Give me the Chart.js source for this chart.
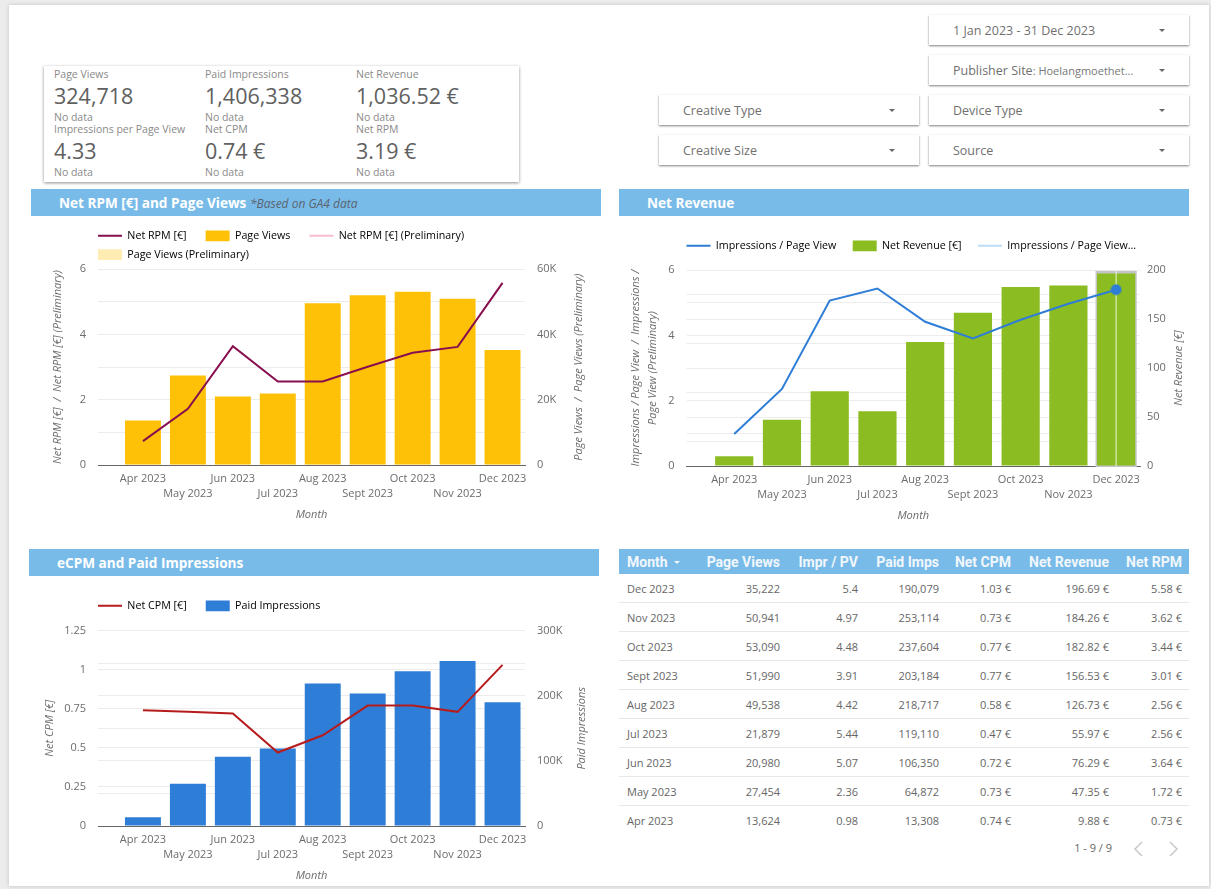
<!DOCTYPE html>
<html>
<head>
<meta charset="utf-8">
<title>Publisher dashboard</title>
<script src="https://cdn.jsdelivr.net/npm/chart.js@4"></script>
<style>
html, body { margin: 0; padding: 0; width: 1211px; height: 889px; overflow: hidden; background: #ececec; }
body { position: relative; font-family: "Open Sans", sans-serif; color: #616161; }
.abs { position: absolute; }
#sheet { left: 9px; top: 5px; width: 1200px; height: 881px; background: #fff; box-shadow: 0 0 4px rgba(0,0,0,.18); }
#kpi { left: 44px; top: 66px; width: 475px; height: 116px; background: #fff; box-shadow: 0 1px 3px rgba(0,0,0,.45); }
.kpi-l, .kpi-v, .kpi-n { position: absolute; white-space: nowrap; line-height: 14px; }
.kpi-l { font-size: 10.5px; color: #8a8a8a; }
.kpi-n { font-size: 10.5px; color: #8a8a8a; }
.kpi-v { font-size: 21.5px; line-height: 26px; color: #606060; }
.filter { position: absolute; width: 260px; height: 30px; background: #fff; box-shadow: 0 1px 2px rgba(0,0,0,.5); font-size: 12.5px; line-height: 31px; color: #707070; }
.filter span { position: absolute; left: 24px; white-space: nowrap; }
.filter small { font-size: 11px; color: #777; }
.filter i { position: absolute; right: 24px; top: 14px; width: 0; height: 0; border: 3px solid transparent; border-top: 3px solid #666; border-bottom: 0; }
.head { position: absolute; height: 27px; width: 570px; background: #79bbe8; color: #fff; font-weight: 700; font-size: 13.6px; line-height: 28px; }
.head span { position: absolute; white-space: nowrap; }
.head em { font-weight: 400; font-size: 12px; color: #5a6570; }
.box { position: absolute; }
#tbl { position: absolute; left: 619px; top: 549px; width: 570px; border-collapse: collapse; table-layout: fixed; font-size: 11px; color: #666; }
#tbl th { height: 25px; padding: 0; background: #79bbe8; color: #f1f7fc; font: 700 14px Roboto, sans-serif; text-align: right; }
#tbl td { height: 28px; padding: 0; text-align: right; border-bottom: 1px solid #e8e8e8; }
#tbl tr:last-child td { border-bottom: 0; }
#tbl th:first-child, #tbl td:first-child { text-align: left; padding-left: 8px; }
#tbl th:last-child, #tbl td:last-child { padding-right: 7px; }
#pager { right: 99px; top: 841px; font-size: 11px; line-height: 14px; color: #666; }
</style>
</head>
<body>
<div id="sheet" class="abs"></div>

<div id="kpi" class="abs"></div>
<div id="filters"></div>

<div class="head" style="left:31px;top:189px"><span style="left:28px">Net RPM [€] and Page Views <em>*Based on GA4 data</em></span></div>
<div class="head" style="left:619px;top:189px"><span style="left:28px">Net Revenue</span></div>
<div class="head" style="left:29px;top:549px"><span style="left:28px">eCPM and Paid Impressions</span></div>

<div class="box" style="left:46px;top:217px;width:554px;height:308px"><canvas id="rpmChart"></canvas></div>
<div class="box" style="left:624px;top:220px;width:565px;height:306px"><canvas id="revenueChart"></canvas></div>
<div class="box" style="left:38px;top:580px;width:562px;height:306px"><canvas id="cpmChart"></canvas></div>

<table id="tbl"></table>
<div id="pager" class="abs">1 - 9 / 9</div>
<svg class="abs" style="left:1130px;top:840px" width="54" height="18" fill="none" stroke="#c4c4c4" stroke-width="1.4">
  <path d="M12 2 L5 9 L12 16"/><path d="M40 2 L47 9 L40 16"/>
</svg>

<script>
const months = ['Apr 2023', 'May 2023', 'Jun 2023', 'Jul 2023', 'Aug 2023', 'Sept 2023', 'Oct 2023', 'Nov 2023', 'Dec 2023'];
const pageViews = [13624, 27454, 20980, 21879, 49538, 51990, 53090, 50941, 35222];
const imprPerView = [0.98, 2.36, 5.07, 5.44, 4.42, 3.91, 4.48, 4.97, 5.4];
const paidImps = [13308, 64872, 106350, 119110, 218717, 203184, 237604, 253114, 190079];
const netCpm = [0.74, 0.73, 0.72, 0.47, 0.58, 0.77, 0.77, 0.73, 1.03];
const netRevenue = [9.88, 47.35, 76.29, 55.97, 126.73, 156.53, 182.82, 184.26, 196.69];
const netRpm = [0.73, 1.72, 3.64, 2.56, 2.56, 3.01, 3.44, 3.62, 5.58];

// tick labels, blank ones only get a grid line
const rpmTicks = ['0', '', '2', '', '4', '', '6'];
const viewTicks = ['0', '', '20K', '', '40K', '', '60K'];
const imprTicks = ['0', '', '2', '', '4', '', '6'];
const revenueTicks = ['0', '', '50', '', '100', '', '150', '', '200'];
const cpmTicks = ['0', '0.25', '0.5', '0.75', '1', '1.25'];
const impTicks = ['0', '', '100K', '', '200K', '', '300K'];

const kpis = [
    ['Page Views', '324,718'], ['Paid Impressions', '1,406,338'], ['Net Revenue', '1,036.52 €'],
    ['Impressions per Page View', '4.33'], ['Net CPM', '0.74 €'], ['Net RPM', '3.19 €']
];
const filters = [
    ['1 Jan 2023 - 31 Dec 2023', 929, 15],
    ['Publisher Site<small>: Hoelangmoethet...</small>', 929, 55],
    ['Creative Type', 659, 95], ['Device Type', 929, 95],
    ['Creative Size', 659, 135], ['Source', 929, 135]
];
const tableHead = ['Month', 'Page Views', 'Impr / PV', 'Paid Imps', 'Net CPM', 'Net Revenue', 'Net RPM'];
const colWidths = [81, 80, 78, 81, 72, 98, 80];

// ---- the html parts
const kpiBox = document.getElementById('kpi');
const kpiX = [10, 161, 312];
kpis.forEach((k, i) => {
    const x = kpiX[i % 3];
    const y = i < 3 ? 0 : 55;
    kpiBox.innerHTML += `<div class="kpi-l" style="left:${x}px;top:${y + 1}px">${k[0]}</div>`
        + `<div class="kpi-v" style="left:${x}px;top:${y + 17}px">${k[1]}</div>`
        + `<div class="kpi-n" style="left:${x}px;top:${y + 44}px">No data</div>`;
});

document.getElementById('filters').innerHTML = filters.map(f =>
    `<div class="filter" style="left:${f[1]}px;top:${f[2]}px"><span>${f[0]}</span><i></i></div>`).join('');

const money = v => v.toFixed(2) + ' €';
let html = '<colgroup>' + colWidths.map(w => `<col style="width:${w}px">`).join('') + '</colgroup><tr>';
tableHead.forEach((h, i) => {
    html += '<th>' + h + (i === 0 ? ' <span style="display:inline-block;margin-left:3px;vertical-align:middle;border:3px solid transparent;border-top-color:#f1f7fc;border-bottom:0"></span>' : '') + '</th>';
});
html += '</tr>';
for (let i = months.length - 1; i >= 0; i--) {
    html += `<tr><td>${months[i]}</td><td>${pageViews[i].toLocaleString('en-US')}</td><td>${imprPerView[i]}</td>`
        + `<td>${paidImps[i].toLocaleString('en-US')}</td><td>${money(netCpm[i])}</td><td>${money(netRevenue[i])}</td><td>${money(netRpm[i])}</td></tr>`;
}
document.getElementById('tbl').innerHTML = html;

// ---- charts
Chart.defaults.font.family = '"Open Sans", sans-serif';
Chart.defaults.font.size = 11;
Chart.defaults.color = '#6c6c6c';

const points = arr => arr.map((v, i) => ({ x: i, y: v }));
const GRID = '#ececec';

// Chart.js turns a right axis title the other way, so that one is drawn here,
// this also pins the legend to the plot's left edge
const dashPlugin = {
    id: 'dash',
    afterLayout(chart, args, opts) {
        const lg = chart.legend;
        lg.left = chart.chartArea.left - 8;
        lg.top = opts.legendTop;
    },
    beforeDatasetsDraw(chart, args, opts) {
        if (opts.hoverIndex === undefined) return;
        const bar = chart.getDatasetMeta(1).data[opts.hoverIndex];
        const ctx = chart.ctx;
        ctx.save();
        ctx.strokeStyle = '#c4c4c4';
        ctx.lineWidth = 3;
        ctx.strokeRect(bar.x - bar.width / 2, bar.y - 1, bar.width, bar.base - bar.y + 1);
        ctx.restore();
    },
    beforeDatasetDraw(chart, args, opts) {
        if (opts.hoverIndex === undefined || args.index !== 0) return;
        const x = chart.scales.x.getPixelForValue(opts.hoverIndex);
        const ctx = chart.ctx;
        ctx.save();
        ctx.strokeStyle = 'rgba(255,255,255,.85)';
        ctx.lineWidth = 1;
        ctx.beginPath();
        ctx.moveTo(x, chart.chartArea.top + 1);
        ctx.lineTo(x, chart.chartArea.bottom);
        ctx.stroke();
        ctx.restore();
    },
    afterDraw(chart, args, opts) {
        const ctx = chart.ctx;
        const a = chart.chartArea;
        ctx.save();
        ctx.translate(a.right + opts.rightOffset, (a.top + a.bottom) / 2);
        ctx.rotate(-Math.PI / 2);
        ctx.font = 'italic 11px "Open Sans", sans-serif';
        ctx.fillStyle = '#6c6c6c';
        ctx.textAlign = 'center';
        ctx.textBaseline = 'middle';
        ctx.fillText(opts.rightTitle, 0, 0);
        ctx.restore();
    }
};

function makeChart(id, cfg) {
    const datasets = cfg.datasets.map(d => {
        const isLine = d.kind === 'line';
        const out = {
            type: isLine ? 'line' : 'bar',
            label: d.label,
            data: points(d.data),
            yAxisID: isLine ? 'y' : 'y1',
            order: isLine ? 0 : 1,
            borderColor: d.color,
            backgroundColor: d.color
        };
        if (isLine) {
            out.borderWidth = 2;
            out.tension = 0;
            out.pointRadius = 0;
            if (d.hoverIndex !== undefined) {
                out.pointRadius = c => c.dataIndex === d.hoverIndex ? 5 : 0;
                out.pointBorderColor = 'rgba(46,125,214,.35)';
                out.pointBorderWidth = 2;
                out.pointBackgroundColor = d.color;
            }
        } else {
            out.barPercentage = 0.8;
            out.categoryPercentage = 1;
            if (!d.data.length) out.grouped = false;
        }
        return out;
    });

    new Chart(document.getElementById(id), {
        type: 'bar',
        data: { datasets: datasets },
        plugins: [dashPlugin],
        options: {
            responsive: true,
            maintainAspectRatio: false,
            animation: false,
            layout: { padding: { top: cfg.padTop } },
            plugins: {
                tooltip: { enabled: false },
                dash: { legendTop: cfg.legendTop, rightTitle: cfg.rightTitle, rightOffset: cfg.rightOffset, hoverIndex: cfg.hoverIndex },
                legend: {
                    position: 'top',
                    align: 'start',
                    fullSize: cfg.legendFull,
                    labels: {
                        usePointStyle: true,
                        pointStyleWidth: 24,
                        boxHeight: 12,
                        padding: 8,
                        color: '#6c6c6c',
                        font: { size: 10.7 },
                        generateLabels: chart => chart.data.datasets.map((ds, i) => ({
                            text: ds.label + (i < chart.data.datasets.length - 1 ? '\u00a0'.repeat(cfg.legendSpaces) : ''),
                            fillStyle: ds.backgroundColor,
                            strokeStyle: ds.borderColor,
                            lineWidth: ds.type === 'line' ? 2 : 0,
                            pointStyle: ds.type === 'line' ? 'line' : 'rect',
                            datasetIndex: i
                        }))
                    }
                }
            },
            scales: {
                x: {
                    type: 'linear',
                    offset: false,
                    min: -1,
                    max: 8.5,
                    afterFit: s => { s.height = 60; },
                    grid: { display: false, drawTicks: false },
                    border: { color: '#666', width: 1 },
                    title: { display: true, text: 'Month', font: { style: 'italic', size: 11 }, color: '#6c6c6c' },
                    ticks: {
                        stepSize: 1,
                        includeBounds: false,
                        autoSkip: false,
                        maxRotation: 0,
                        padding: 6,
                        font: { size: 11, lineHeight: 1.36 },
                        callback: v => {
                            if (v < 0 || !months[v]) return '';
                            return v % 2 ? ['', months[v]] : months[v];
                        }
                    }
                },
                y: {
                    position: 'left',
                    min: 0,
                    max: cfg.leftMax,
                    afterFit: s => { s.width = cfg.leftWidth; },
                    grid: { color: GRID, drawTicks: false },
                    border: { display: false },
                    title: { display: true, text: cfg.leftTitle, font: { style: 'italic', size: 11, lineHeight: 1.5 }, color: '#6c6c6c' },
                    ticks: { stepSize: cfg.leftStep, autoSkip: false, padding: 12, callback: (v, i) => cfg.leftTicks[i] }
                },
                y1: {
                    position: 'right',
                    min: 0,
                    max: cfg.rightMax,
                    afterFit: s => { s.width = cfg.rightWidth; },
                    grid: { color: GRID, drawTicks: false },
                    border: { display: false },
                    ticks: { stepSize: cfg.rightStep, autoSkip: false, padding: cfg.rightPad, callback: (v, i) => cfg.rightTicks[i] }
                }
            }
        }
    });
}

makeChart('rpmChart', {
    datasets: [
        { kind: 'line', label: 'Net RPM [€]', data: netRpm, color: '#880e4f' },
        { kind: 'bar', label: 'Page Views', data: pageViews, color: '#ffc107' },
        { kind: 'line', label: 'Net RPM [€] (Preliminary)', data: [], color: '#f8bbd0' },
        { kind: 'bar', label: 'Page Views (Preliminary)', data: [], color: '#ffecb3' }
    ],
    padTop: 4.8, legendTop: 5.5, legendFull: false, legendSpaces: 4,
    leftWidth: 52, rightWidth: 75, rightPad: 12,
    leftMax: 6, leftStep: 1, leftTicks: rpmTicks,
    rightMax: 60000, rightStep: 10000, rightTicks: viewTicks,
    leftTitle: 'Net RPM [€]  /  Net RPM [€] (Preliminary)',
    rightTitle: 'Page Views  /  Page Views (Preliminary)', rightOffset: 54
});

makeChart('revenueChart', {
    datasets: [
        { kind: 'line', label: 'Impressions / Page View', data: imprPerView, color: '#2e7dd6', hoverIndex: 8 },
        { kind: 'bar', label: 'Net Revenue [€]', data: netRevenue, color: '#8bbc21' },
        { kind: 'line', label: 'Impressions / Page View…', data: [], color: '#bbdefb' }
    ],
    padTop: 21.5, legendTop: 12.5, legendFull: true, legendSpaces: 3, hoverIndex: 8,
    leftWidth: 62.5, rightWidth: 49, rightPad: 7,
    leftMax: 6, leftStep: 1, leftTicks: imprTicks,
    rightMax: 200, rightStep: 25, rightTicks: revenueTicks,
    leftTitle: ['Impressions / Page View  /  Impressions /', 'Page View (Preliminary)'],
    rightTitle: 'Net Revenue [€]', rightOffset: 39
});

makeChart('cpmChart', {
    datasets: [
        { kind: 'line', label: 'Net CPM [€]', data: netCpm, color: '#b71c1c' },
        { kind: 'bar', label: 'Paid Impressions', data: paidImps, color: '#2e7dd6' }
    ],
    padTop: 21.8, legendTop: 12.5, legendFull: true, legendSpaces: 4,
    leftWidth: 60, rightWidth: 75, rightPad: 12,
    leftMax: 1.25, leftStep: 0.25, leftTicks: cpmTicks,
    rightMax: 300000, rightStep: 50000, rightTicks: impTicks,
    leftTitle: 'Net CPM [€]',
    rightTitle: 'Paid Impressions', rightOffset: 57
});
</script>
</body>
</html>
